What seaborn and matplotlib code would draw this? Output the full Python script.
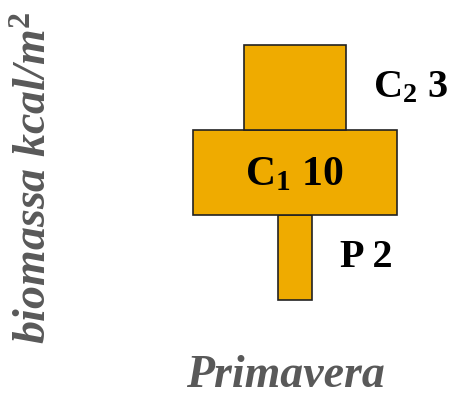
import matplotlib
matplotlib.use("Agg")
import matplotlib.pyplot as plt
import seaborn as sns
import pandas as pd

# data
levels = ["P", "C1", "C2"]
level_labels = ["P 2", "C$_1$ 10", "C$_2$ 3"]
biomass = [2, 10, 3]
drawn_width = [1, 6, 3]
title = "Primavera"
ylabel_text = "biomassa kcal/m$^2$"

sns.set_theme(style="white")
plt.rcParams["font.family"] = ["Liberation Serif", "DejaVu Serif"]
plt.rcParams["mathtext.fontset"] = "custom"
plt.rcParams["mathtext.rm"] = "Liberation Serif:bold"
plt.rcParams["mathtext.bf"] = "Liberation Serif:bold"
plt.rcParams["mathtext.it"] = "Liberation Serif:bold:italic"
plt.rcParams["mathtext.default"] = "bf"

df = pd.DataFrame({"level": levels, "width": drawn_width, "value": biomass})
df["y"] = range(len(df))

fig = plt.figure(figsize=(4.53, 3.98), dpi=100)
ax = fig.add_axes([0, 0, 1, 1])
ax.barh(df["y"], df["width"], left=-df["width"] / 2, height=1.0,
        color="#EFAB00", edgecolor="#222222", linewidth=1.2)

ax.set_xlim(-294.5 / 34, (453 - 294.5) / 34)
ax.set_ylim(-140.5 / 85, (398 - 140.5) / 85)
ax.axis("off")

# labels
ax.text(df["width"][0] / 2 + 0.85, 0, level_labels[0], ha="left", va="center",
        fontsize=29, fontweight="bold", color="black")
ax.text(0, 0.97, level_labels[1], ha="center", va="center",
        fontsize=30, fontweight="bold", color="black")
ax.text(df["width"][2] / 2 + 0.8, 2.0, level_labels[2], ha="left", va="center",
        fontsize=29, fontweight="bold", color="black")

fig.text(285 / 453, 1 / 398, title, ha="center", va="bottom",
         fontsize=33, fontweight="bold", fontstyle="italic", color="#595959")
plt.rcParams["mathtext.rm"] = "Liberation Serif:bold:italic"
fig.text(35 / 453, 1 - 178 / 398, ylabel_text, ha="center", va="center",
         rotation=90, fontsize=33, fontweight="bold", fontstyle="italic",
         color="#595959")

fig.savefig("out.png", dpi=100)
